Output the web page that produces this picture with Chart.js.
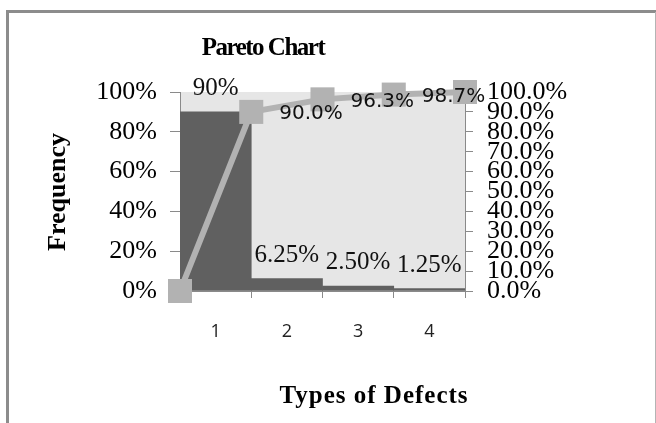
<!DOCTYPE html>
<html>
<head>
<meta charset="utf-8">
<title>Pareto Chart</title>
<script src="https://cdn.jsdelivr.net/npm/chart.js@4"></script>
<style>
  html, body { margin: 0; padding: 0; background: #ffffff; }
  #wrap { width: 656px; height: 423px; position: relative; }
  canvas { display: block; }
</style>
</head>
<body>
<div id="wrap"><canvas id="pareto" width="656" height="423"></canvas></div>
<script>
// Defect categories and their share of all defects (%)
const categories = ['1', '2', '3', '4'];
const frequency = [90, 6.25, 2.5, 1.25];
const frequencyLabels = ['90%', '6.25%', '2.50%', '1.25%'];

// Cumulative share, one point per category boundary (%)
const cumulativePos = [0, 1, 2, 3, 4];
const cumulative = [0, 90.0, 96.3, 98.7, 100.0];
const cumulativeLabelIdx = [1, 2, 3];

// Axis tick values (%)
const leftTicks = [0, 20, 40, 60, 80, 100];
const rightTicks = [0, 10, 20, 30, 40, 50, 60, 70, 80, 90, 100];

const SERIF = '"Liberation Serif", "Times New Roman", serif';
const AXIS_GREY = '#8a8a8a';

// Outer frame, plot background and hand-placed titles
const framePlugin = {
  id: 'frame',
  beforeDraw(chart) {
    const { ctx, chartArea: a } = chart;
    ctx.save();
    ctx.fillStyle = '#ffffff';
    ctx.fillRect(0, 0, chart.width, chart.height);
    ctx.fillStyle = '#e6e6e6';
    ctx.fillRect(a.left, a.top, a.right - a.left, a.bottom - a.top);
    ctx.strokeStyle = '#8c8c8c';
    ctx.lineWidth = 3;
    ctx.beginPath();
    ctx.moveTo(6, 11.5); ctx.lineTo(656, 11.5);
    ctx.moveTo(7.5, 10); ctx.lineTo(7.5, 423);
    ctx.stroke();
    ctx.strokeStyle = '#b4b4b4';
    ctx.lineWidth = 1;
    ctx.beginPath();
    ctx.moveTo(655.5, 12); ctx.lineTo(655.5, 423);
    ctx.stroke();
    ctx.restore();
  },
  afterDraw(chart) {
    const { ctx } = chart;
    ctx.save();
    ctx.fillStyle = '#000000';
    ctx.textAlign = 'center';
    ctx.textBaseline = 'alphabetic';
    ctx.font = 'bold 25px ' + SERIF;
    ctx.letterSpacing = '-1.5px';
    ctx.fillText('Pareto Chart', 263, 55);
    ctx.font = 'bold 25px ' + SERIF;
    ctx.letterSpacing = '1px';
    ctx.fillText('Types of Defects', 374, 403);
    ctx.letterSpacing = '0px';
    ctx.font = 'bold 26px ' + SERIF;
    ctx.translate(65, 192);
    ctx.rotate(-Math.PI / 2);
    ctx.fillText('Frequency', 0, 0);
    ctx.restore();
  }
};

// Value labels on the bars and on the cumulative points
const valueLabelPlugin = {
  id: 'valueLabels',
  afterDatasetsDraw(chart) {
    const { ctx } = chart;
    ctx.save();
    ctx.fillStyle = '#111111';
    const bars = chart.getDatasetMeta(1).data;
    ctx.font = '25px ' + SERIF;
    ctx.textAlign = 'center';
    ctx.textBaseline = 'alphabetic';
    bars.forEach((el, i) => {
      ctx.fillText(frequencyLabels[i], el.x, el.y - 17);
    });
    const pts = chart.getDatasetMeta(0).data;
    ctx.font = '20px "DejaVu Sans", sans-serif';
    ctx.textAlign = 'left';
    ctx.textBaseline = 'middle';
    cumulativeLabelIdx.forEach(i => {
      ctx.fillText(cumulative[i].toFixed(1) + '%', pts[i].x + 28, pts[i].y + 2);
    });
    ctx.restore();
  }
};

new Chart(document.getElementById('pareto'), {
  type: 'bar',
  data: {
    labels: categories,
    datasets: [
      {
        type: 'line',
        label: 'Cumulative',
        data: cumulativePos.map((x, i) => ({ x: x, y: cumulative[i] })),
        xAxisID: 'x2',
        yAxisID: 'y2',
        borderColor: '#b2b2b2',
        borderWidth: 6,
        tension: 0,
        pointStyle: 'rect',
        pointRadius: 17,
        pointHoverRadius: 17,
        pointBackgroundColor: '#b2b2b2',
        pointBorderWidth: 0,
        clip: false,
        order: 0
      },
      {
        type: 'bar',
        label: 'Frequency',
        data: frequency,
        xAxisID: 'x',
        yAxisID: 'y',
        backgroundColor: '#606060',
        borderWidth: 0,
        grouped: false,
        barPercentage: 1.0,
        categoryPercentage: 1.0,
        order: 1
      }
    ]
  },
  options: {
    responsive: false,
    animation: false,
    events: [],
    layout: { padding: { top: 92, left: 0, right: 0, bottom: 0 } },
    plugins: {
      legend: { display: false },
      title: { display: false },
      tooltip: { enabled: false }
    },
    scales: {
      x: {
        type: 'category',
        position: 'bottom',
        offset: true,
        grid: {
          offset: true,
          drawOnChartArea: false,
          color: AXIS_GREY,
          tickLength: 7
        },
        border: { color: AXIS_GREY, width: 1 },
        ticks: {
          color: '#222222',
          padding: 23,
          font: { family: '"Open Sans", "Noto Sans", sans-serif', size: 18 }
        },
        afterFit(scale) { scale.height = 132; }
      },
      x2: {
        type: 'linear',
        display: false,
        offset: false,
        min: 0,
        max: 4
      },
      y: {
        type: 'linear',
        position: 'left',
        min: 0,
        max: 100,
        afterBuildTicks(scale) { scale.ticks = leftTicks.map(v => ({ value: v })); },
        grid: {
          drawOnChartArea: false,
          color: AXIS_GREY,
          tickLength: 10
        },
        border: { color: AXIS_GREY, width: 1 },
        ticks: {
          color: '#000000',
          padding: 13,
          autoSkip: false,
          font: { family: SERIF, size: 26 },
          callback: v => v + '%'
        },
        afterFit(scale) { scale.width = 180; }
      },
      y2: {
        type: 'linear',
        position: 'right',
        min: 0,
        max: 100,
        afterBuildTicks(scale) { scale.ticks = rightTicks.map(v => ({ value: v })); },
        grid: {
          drawOnChartArea: false,
          color: AXIS_GREY,
          tickLength: 8
        },
        border: { color: AXIS_GREY, width: 1 },
        ticks: {
          color: '#000000',
          padding: 14,
          autoSkip: false,
          font: { family: SERIF, size: 26 },
          callback: v => v.toFixed(1) + '%'
        },
        afterFit(scale) { scale.width = 191; }
      }
    }
  },
  plugins: [framePlugin, valueLabelPlugin]
});
</script>
</body>
</html>
